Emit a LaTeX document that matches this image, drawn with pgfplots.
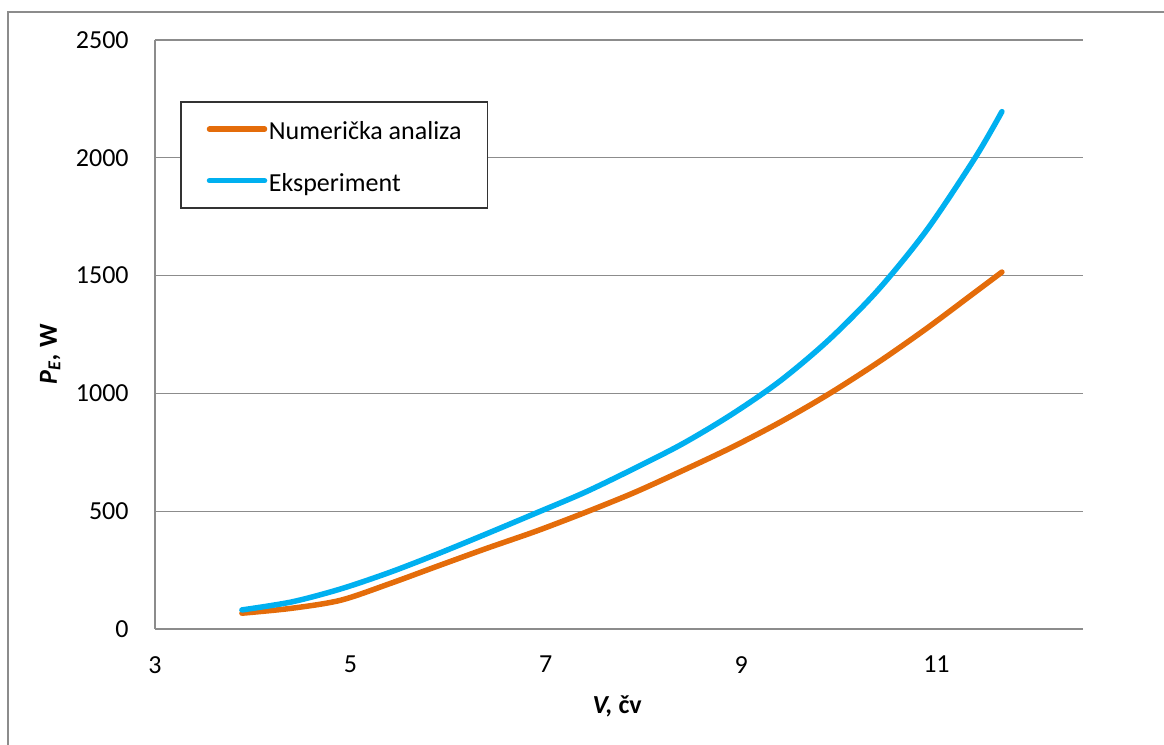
\documentclass[border=0pt]{standalone}
\usepackage{fontspec}
\setmainfont{Carlito}
\usepackage{pgfplots}
\pgfplotsset{compat=1.18}
\definecolor{orng}{HTML}{E46C0A}
\definecolor{sky}{HTML}{00B0F0}
\definecolor{gridc}{HTML}{8C8C8C}
\begin{document}
\fontsize{13}{15.6}\selectfont
\begin{tikzpicture}
\useasboundingbox (0,0) rectangle (582pt,372.5pt);
\draw[black!45, line width=0.6pt] (4pt,0) -- (4pt,366.5pt) -- (582pt,366.5pt);
\begin{axis}[
  at={(77.5pt,58pt)}, anchor=south west, scale only axis,
  width=464pt, height=294.5pt,
  xmin=3, xmax=12.5, ymin=0, ymax=2500,
  xtick={3,5,7,9,11}, ytick={0,500,1000,1500,2000,2500},
  axis x line*=bottom, axis y line*=left,
  ymajorgrids, grid style={gridc, line width=0.6pt},
  axis line style={gridc, line width=0.6pt},
  major tick length=0pt, tick style={draw=none},
  /pgf/number format/assume math mode=true,
  /pgf/number format/1000 sep={},
  tick label style={inner sep=0pt, font=\fontsize{13}{15.6}\selectfont},
  xticklabel style={yshift=-13.4pt},
  yticklabel style={xshift=-13pt},
  xlabel={\textbf{\textit{V,} čv}},
  xlabel style={at={(axis description cs:0.498,-0.131)}, anchor=center},
  ylabel={\textbf{\textit{P}\textsubscript{\textit{E}}\textit{,} W}},
  ylabel style={at={(axis description cs:-0.113,0.466)}, anchor=center},
  legend cell align=left,
  legend image code/.code={\draw[#1, line cap=round] (0pt,0pt) -- (27.5pt,0pt);},
  legend style={at={(axis description cs:0.0269,0.8964)}, anchor=north west,
    draw=black!80, line width=0.8pt, fill=white,
    inner xsep=13pt, inner ysep=8.4pt, row sep=15.3pt,
    nodes={inner sep=0pt, text height=10.5pt, text depth=0pt},
    /tikz/every odd column/.append style={column sep=0.8pt}},
]
\addplot[orng, line width=2.75pt, line cap=round, line join=round, smooth] coordinates {
(3.89,67) (4.4,88) (4.9,122) (5.4,192) (5.9,268) (6.4,343) (6.9,415)
(7.4,494) (7.9,578) (8.4,672) (8.9,770) (9.4,878) (9.9,998)
(10.4,1131) (10.9,1276) (11.4,1431) (11.67,1515)};
\addlegendentry{Numerička analiza}
\addplot[sky, line width=2.75pt, line cap=round, line join=round, smooth] coordinates {
(3.89,81) (4.4,115) (4.9,170) (5.4,240) (5.9,320) (6.4,405) (6.9,492)
(7.4,580) (7.9,680) (8.4,786) (8.9,910) (9.4,1053) (9.9,1228)
(10.4,1438) (10.9,1693) (11.4,2003) (11.67,2196)};
\addlegendentry{Eksperiment}
\end{axis}
\end{tikzpicture}
\end{document}
